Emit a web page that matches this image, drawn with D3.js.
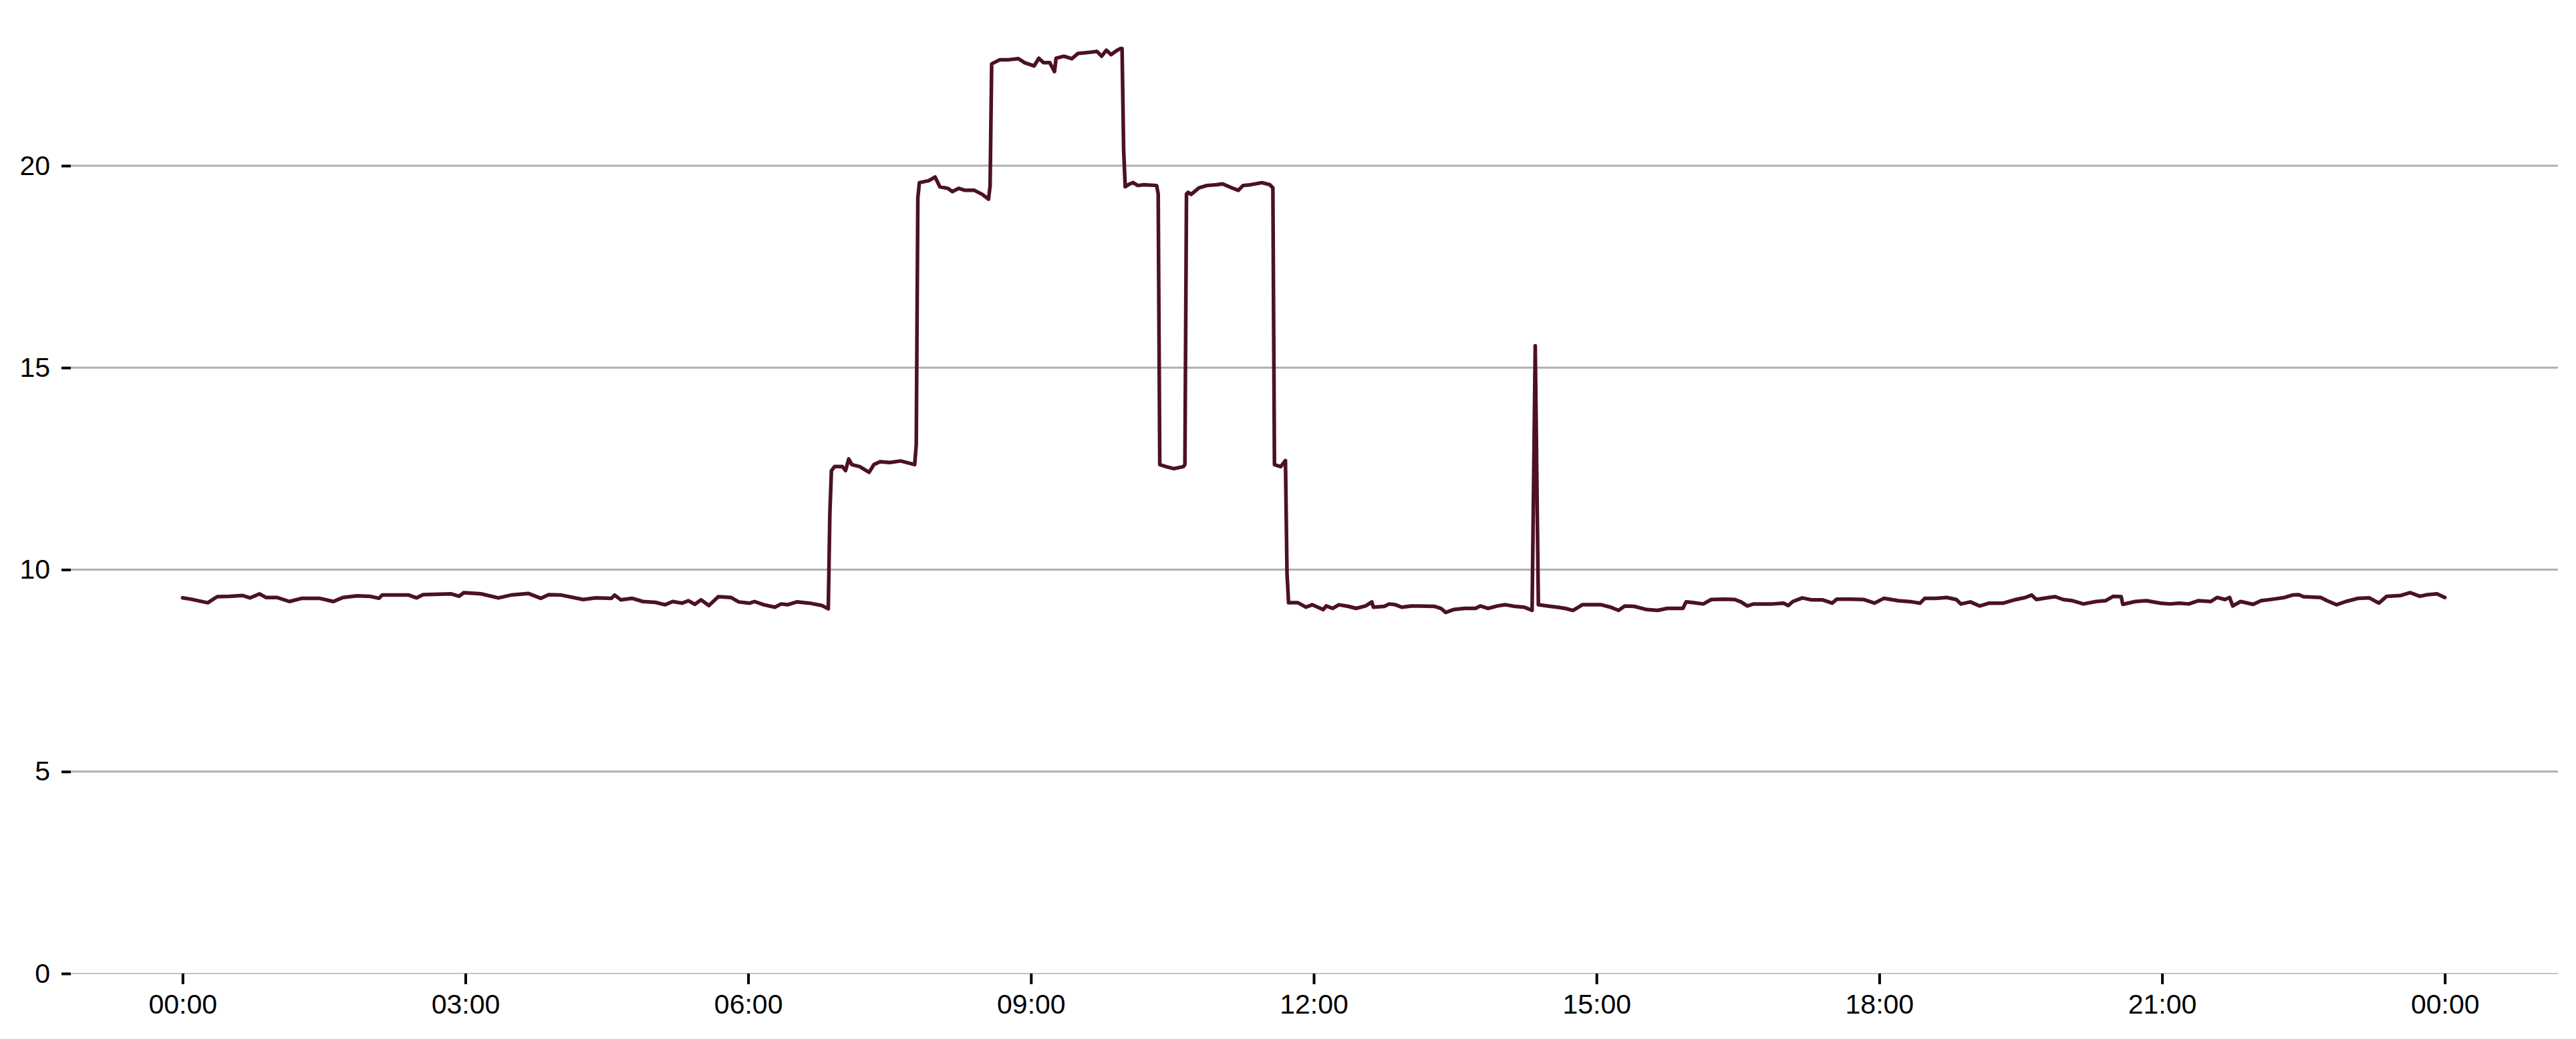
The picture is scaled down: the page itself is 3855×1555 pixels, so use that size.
<!DOCTYPE html>
<html lang="en">
<head>
  <meta charset="UTF-8">
  <title>Daily time series</title>
  <script src="https://d3js.org/d3.v7.min.js"></script>
  <style>
    body {
      margin: 0;
      padding: 0;
      background: #fff;
    }

    svg {
      display: block;
      font-family: "Liberation Sans", Arial, sans-serif;
    }
  </style>
</head>
<body>
  <div id="chart"></div>

  <script>
    // Minutes since midnight
    const minutes = [
      0, 5, 16, 22, 30, 38, 43, 49, 53, 60, 68, 76, 87, 96, 102, 111, 119, 125, 127, 144,
      149, 153, 171, 176, 179, 190, 201, 209, 220, 228, 233, 241, 255, 263, 273, 275, 279, 286, 293, 301,
      307, 312, 318, 322, 326, 330, 335, 341, 349, 354, 361, 364, 370, 377, 381, 385, 391, 399, 407, 411,
      412, 413, 415, 420, 422, 424, 426, 431, 437, 440, 444, 450, 457, 462, 466, 467, 468,
      469, 475, 479, 482, 487, 490, 494, 498, 504, 509, 513, 514,
      515, 520, 525, 532, 536, 542, 545, 548, 552, 555, 556, 561, 566, 570, 578, 582, 585, 588, 591, 595, 597,
      598, 599, 600, 603, 605, 608, 612, 620, 621,
      622, 626, 631, 637, 638, 639,
      640, 642, 647, 652, 658, 662, 668, 672, 675, 680, 687, 692, 694,
      695, 699, 700, 702, 703,
      704, 710, 715, 719, 726, 728, 732, 736, 742, 747, 753, 757, 758, 765, 768, 772, 776, 782, 787, 797,
      801, 804, 809, 816, 823, 826, 831, 837, 842, 848, 854, 859, 861, 863, 869, 875, 880, 885, 891, 898,
      903, 909, 914, 918, 924, 932, 939, 945, 955, 957, 962, 968, 973,
      982, 988, 992, 996, 1000, 1012, 1019, 1022, 1025, 1031, 1037, 1044, 1050, 1053, 1062, 1070, 1077, 1083, 1092, 1101,
      1106, 1109, 1116, 1123, 1129, 1132, 1138, 1144, 1150, 1159, 1167, 1173, 1177, 1180, 1188, 1192, 1197, 1203, 1210, 1218,
      1224, 1229, 1234, 1235, 1243, 1250, 1259, 1265, 1271, 1277, 1283, 1291, 1295, 1300, 1303, 1305, 1310, 1318, 1323, 1331,
      1338, 1343, 1347, 1350, 1361, 1365, 1371, 1377, 1385, 1392, 1398, 1403, 1412, 1418, 1424, 1429, 1435, 1440
    ];

    const values = [
      9.30, 9.27, 9.18, 9.33, 9.34, 9.36, 9.30, 9.40, 9.31, 9.31, 9.21, 9.29, 9.29, 9.21, 9.31, 9.35, 9.34, 9.29, 9.37, 9.37,
      9.30, 9.38, 9.40, 9.34, 9.43, 9.40, 9.30, 9.37, 9.41, 9.29, 9.38, 9.37, 9.26, 9.30, 9.29, 9.37, 9.25, 9.29, 9.21, 9.19,
      9.13, 9.21, 9.17, 9.23, 9.14, 9.25, 9.11, 9.33, 9.31, 9.20, 9.17, 9.21, 9.13, 9.07, 9.15, 9.13, 9.20, 9.17, 9.11, 9.03,
      11.40, 12.45, 12.55, 12.55, 12.45, 12.74, 12.60, 12.55, 12.41, 12.60, 12.67, 12.65, 12.69, 12.64, 12.60, 13.10, 19.20,
      19.58, 19.63, 19.72, 19.48, 19.44, 19.36, 19.44, 19.39, 19.39, 19.29, 19.17, 19.50,
      22.52, 22.62, 22.62, 22.65, 22.55, 22.47, 22.66, 22.55, 22.55, 22.33, 22.66, 22.71, 22.65, 22.78, 22.81, 22.83, 22.71, 22.86, 22.75, 22.86, 22.90,
      22.90, 20.40, 19.48, 19.55, 19.58, 19.51, 19.53, 19.51, 19.30,
      12.60, 12.55, 12.50, 12.55, 12.60, 19.30,
      19.34, 19.29, 19.45, 19.51, 19.53, 19.55, 19.45, 19.39, 19.51, 19.53, 19.58, 19.53, 19.45,
      12.60, 12.55, 12.60, 12.70, 9.90,
      9.18, 9.18, 9.07, 9.13, 9.01, 9.10, 9.04, 9.13, 9.09, 9.04, 9.10, 9.20, 9.07, 9.09, 9.15, 9.13, 9.07, 9.10, 9.10, 9.09,
      9.04, 8.94, 9.01, 9.04, 9.04, 9.10, 9.04, 9.10, 9.13, 9.09, 9.07, 8.99, 15.54, 9.13, 9.10, 9.07, 9.04, 8.99, 9.13, 9.13,
      9.13, 9.07, 8.99, 9.10, 9.09, 9.01, 8.99, 9.04, 9.04, 9.20, 9.18, 9.15, 9.26,
      9.27, 9.26, 9.20, 9.10, 9.15, 9.15, 9.17, 9.11, 9.21, 9.30, 9.25, 9.25, 9.17, 9.27, 9.27, 9.26, 9.17, 9.29, 9.23, 9.20,
      9.17, 9.29, 9.29, 9.31, 9.26, 9.15, 9.20, 9.10, 9.17, 9.17, 9.26, 9.31, 9.37, 9.26, 9.31, 9.33, 9.26, 9.23, 9.15, 9.21,
      9.23, 9.34, 9.33, 9.14, 9.21, 9.23, 9.17, 9.15, 9.17, 9.15, 9.23, 9.21, 9.31, 9.26, 9.31, 9.10, 9.21, 9.14, 9.23, 9.27,
      9.31, 9.37, 9.38, 9.33, 9.31, 9.23, 9.13, 9.21, 9.29, 9.30, 9.17, 9.34, 9.36, 9.43, 9.34, 9.38, 9.40, 9.31
    ];

    // Tick values
    const yTicks = [0, 5, 10, 15, 20];
    const xTickHours = [0, 3, 6, 9, 12, 15, 18, 21, 24];

    const width = 3855;
    const height = 1555;
    const plotLeft = 106;
    const plotRight = 3828;

    const day = new Date(2024, 0, 1);
    const at = m => new Date(day.getTime() + m * 60000);
    const data = minutes.map((m, i) => ({ t: at(m), v: values[i] }));

    // Time axis padded by 5% of the day on each side
    const x = d3.scaleTime()
      .domain([at(-72), at(1440 + 72)])
      .range([104, 3828]);

    const y = d3.scaleLinear()
      .domain([0, 24])
      .range([1457, 1457 - 24 * 60.45]);

    const svg = d3.create("svg")
      .attr("width", width)
      .attr("height", height)
      .attr("viewBox", [0, 0, width, height]);

    svg.append("rect")
      .attr("width", width)
      .attr("height", height)
      .attr("fill", "#fff");

    // Horizontal grid
    svg.append("g")
      .selectAll("line")
      .data(yTicks.filter(d => d > 0))
      .join("line")
      .attr("x1", plotLeft)
      .attr("x2", plotRight)
      .attr("y1", d => y(d))
      .attr("y2", d => y(d))
      .attr("stroke", "#b0b0b0")
      .attr("stroke-width", 3);

    // Baseline along zero
    svg.append("line")
      .attr("x1", plotLeft)
      .attr("x2", plotRight)
      .attr("y1", y(0))
      .attr("y2", y(0))
      .attr("stroke", "#c4c4c4")
      .attr("stroke-width", 2);

    // Y axis: ticks and labels, no domain line
    const yAxis = svg.append("g")
      .attr("transform", `translate(${plotLeft},0)`)
      .call(d3.axisLeft(y)
        .tickValues(yTicks)
        .tickSize(14)
        .tickPadding(17)
        .tickFormat(d3.format("d")));
    yAxis.select(".domain").remove();
    yAxis.selectAll(".tick line").attr("stroke", "#000").attr("stroke-width", 4);
    yAxis.selectAll(".tick text")
      .attr("fill", "#000")
      .style("font-size", "41px")
      .style("font-family", "'Liberation Sans', Arial, sans-serif");

    // X axis: ticks every three hours
    const xAxis = svg.append("g")
      .attr("transform", `translate(0,${y(0)})`)
      .call(d3.axisBottom(x)
        .tickValues(xTickHours.map(h => at(h * 60)))
        .tickSize(16)
        .tickPadding(15)
        .tickFormat(d3.timeFormat("%H:%M")));
    xAxis.select(".domain").remove();
    xAxis.selectAll(".tick line").attr("stroke", "#000").attr("stroke-width", 4);
    xAxis.selectAll(".tick text")
      .attr("fill", "#000")
      .style("font-size", "41px")
      .style("font-family", "'Liberation Sans', Arial, sans-serif");

    // Series
    svg.append("path")
      .datum(data)
      .attr("fill", "none")
      .attr("stroke", "#4c1220")
      .attr("stroke-width", 5.5)
      .attr("stroke-linejoin", "round")
      .attr("stroke-linecap", "round")
      .attr("d", d3.line()
        .x(d => x(d.t))
        .y(d => y(d.v)));

    document.getElementById("chart").appendChild(svg.node());
  </script>
</body>
</html>
